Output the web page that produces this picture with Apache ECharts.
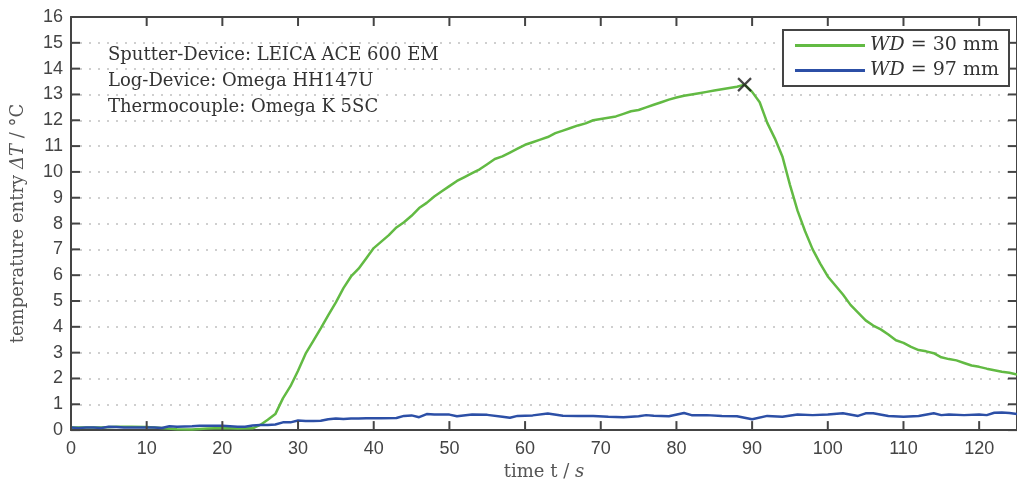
<!DOCTYPE html>
<html>
<head>
<meta charset="UTF-8">
<title>temperature entry</title>
<script src="https://cdn.jsdelivr.net/npm/echarts@6/dist/echarts.min.js"></script>
<style>
  html, body { margin: 0; padding: 0; background: #fff; }
  #chart { width: 1017px; height: 486px; }
</style>
</head>
<body>
<div id="chart"></div>
<script>
// WD = 30 mm (green)
var timeWD30 = [0, 2, 4, 6, 8, 10, 12, 14, 16, 18, 20, 22, 24, 25, 26, 27, 28, 29, 30,
  31, 32, 33, 34, 35, 36, 37, 38, 39, 40, 41, 42, 43, 44, 45, 46, 47, 48, 49, 50,
  51, 52, 53, 54, 55, 56, 57, 58, 59, 60, 61, 62, 63, 64, 65, 66, 67, 68, 69, 70,
  71, 72, 73, 74, 75, 76, 77, 78, 79, 80, 81, 82, 83, 84, 85, 86, 87, 88, 89, 90,
  91, 92, 93, 94, 95, 96, 97, 98, 99, 100, 101, 102, 103, 104, 105, 106, 107, 108, 109, 110,
  111, 112, 113, 114, 115, 116, 117, 118, 119, 120, 121, 122, 123, 124, 125];
var tempWD30 = [0.1, 0.1, 0.1, 0.13, 0.13, 0.12, 0.08, 0.03, 0.02, 0.06, 0.08, 0.06, 0.07, 0.2, 0.4, 0.62, 1.23, 1.7, 2.3,
  2.96, 3.45, 3.94, 4.45, 4.95, 5.5, 5.95, 6.25, 6.65, 7.05, 7.3, 7.55, 7.85, 8.05, 8.3, 8.6, 8.8, 9.05, 9.25, 9.45,
  9.65, 9.8, 9.95, 10.1, 10.3, 10.5, 10.6, 10.75, 10.9, 11.05, 11.15, 11.25, 11.35, 11.5, 11.6, 11.7, 11.8, 11.88, 12.0, 12.05,
  12.1, 12.15, 12.25, 12.35, 12.4, 12.5, 12.6, 12.7, 12.8, 12.88, 12.95, 13.0, 13.05, 13.1, 13.15, 13.2, 13.25, 13.3, 13.38, 13.1,
  12.7, 11.9, 11.3, 10.6, 9.5, 8.5, 7.7, 7.0, 6.45, 5.95, 5.6, 5.25, 4.85, 4.55, 4.25, 4.05, 3.9, 3.7, 3.48, 3.38,
  3.22, 3.1, 3.05, 2.98, 2.82, 2.75, 2.7, 2.6, 2.5, 2.45, 2.38, 2.32, 2.26, 2.22, 2.15];

// WD = 97 mm (blue)
var timeWD97 = [0, 1, 2, 3, 4, 5, 6, 7, 8, 9, 10, 11, 12, 13, 14, 15, 16, 17, 18, 19, 20,
  21, 22, 23, 24, 25, 26, 27, 28, 29, 30, 31, 32, 33, 34, 35, 36, 37, 38, 39, 40,
  41, 43, 44, 45, 46, 47, 48, 50, 51, 53, 55, 57, 58, 59, 61, 63, 65, 67, 69, 71,
  73, 75, 76, 77, 79, 81, 82, 84, 86, 88, 90, 92, 94, 96, 98, 100, 102, 104, 105, 106,
  108, 110, 112, 114, 115, 116, 118, 120, 121, 122, 123, 124, 125];
var tempWD97 = [0.1, 0.08, 0.1, 0.1, 0.08, 0.13, 0.12, 0.1, 0.1, 0.1, 0.1, 0.1, 0.08, 0.15, 0.13, 0.14, 0.15, 0.17, 0.17, 0.17, 0.17,
  0.15, 0.13, 0.13, 0.18, 0.2, 0.2, 0.22, 0.3, 0.3, 0.37, 0.35, 0.35, 0.36, 0.42, 0.45, 0.43, 0.45, 0.45, 0.46, 0.46,
  0.46, 0.47, 0.55, 0.57, 0.5, 0.62, 0.6, 0.6, 0.54, 0.6, 0.59, 0.52, 0.48, 0.55, 0.57, 0.64, 0.56, 0.55, 0.55, 0.52,
  0.5, 0.54, 0.58, 0.56, 0.54, 0.66, 0.58, 0.58, 0.55, 0.54, 0.42, 0.55, 0.52, 0.6, 0.58, 0.6, 0.65, 0.55, 0.65, 0.65,
  0.55, 0.52, 0.55, 0.65, 0.58, 0.6, 0.58, 0.6, 0.58, 0.67, 0.68, 0.66, 0.62];

// Maximum marker
var peakPoint = [89, 13.38];

// axis ranges and tick values
var xRange = [0, 125];
var yRange = [0, 16];
var xTickValues = [0, 10, 20, 30, 40, 50, 60, 70, 80, 90, 100, 110, 120];
var yTickValues = [0, 1, 2, 3, 4, 5, 6, 7, 8, 9, 10, 11, 12, 13, 14, 15, 16];

function pairs(xs, ys) {
  var out = [];
  for (var i = 0; i < xs.length; i++) {
    out.push([xs[i], ys[i]]);
  }
  return out;
}

var green = '#62ba43';
var blue = '#2c4fa6';
var axisColor = '#444';
var serif = '"DejaVu Serif", "Liberation Serif", serif';
var sans = '"Liberation Sans", Arial, sans-serif';
var tickLen = 9;

function frameLine(onZero) {
  return { show: true, onZero: onZero, lineStyle: { color: axisColor, width: 2 } };
}

var infoText = {
  type: 'text',
  left: 108, top: 42,
  style: {
    text: 'Sputter-Device: LEICA ACE 600 EM\nLog-Device: Omega HH147U\nThermocouple: Omega K 5SC',
    font: '18px ' + serif,
    lineHeight: 26,
    fill: '#333'
  }
};

var chart = echarts.init(document.getElementById('chart'));

var option = {
  animation: false,
  backgroundColor: '#fff',
  grid: {
    left: 71, right: 0, top: 17, bottom: 54,
    show: false
  },
  legend: {
    right: 8, top: 30,
    orient: 'vertical',
    data: ['WD = 30 mm', 'WD = 97 mm'],
    icon: 'rect',
    itemWidth: 70, itemHeight: 3,
    itemGap: 6,
    padding: [6, 10, 6, 12],
    borderColor: axisColor, borderWidth: 2,
    backgroundColor: '#fff',
    formatter: function (name) {
      return '{i|WD} ' + name.slice(3);
    },
    textStyle: {
      fontFamily: serif, fontSize: 19, color: '#333',
      rich: { i: { fontFamily: serif, fontStyle: 'italic', fontSize: 19, color: '#333' } }
    }
  },
  graphic: [infoText],
  xAxis: [{
    type: 'value',
    min: xRange[0], max: xRange[1], interval: 10,
    name: 'time t / {i|s}',
    nameLocation: 'middle',
    nameGap: 32,
    nameTextStyle: {
      fontFamily: serif, fontSize: 18, color: '#555',
      rich: { i: { fontFamily: serif, fontStyle: 'italic', fontSize: 18, color: '#555' } }
    },
    axisLine: frameLine(true),
    axisTick: { show: false },
    axisLabel: {
      fontFamily: sans, fontSize: 18, color: '#444', margin: 10,
      showMaxLabel: false
    },
    splitLine: { show: false }
  }, {
    type: 'value',
    position: 'top',
    min: xRange[0], max: xRange[1], interval: 10,
    axisLine: frameLine(false),
    axisTick: { show: false },
    axisLabel: { show: false },
    splitLine: { show: false }
  }],
  yAxis: [{
    type: 'value',
    min: yRange[0], max: yRange[1], interval: 1,
    name: 'temperature entry {i|ΔT} / °C',
    nameLocation: 'middle',
    nameGap: 44,
    nameTextStyle: {
      fontFamily: serif, fontSize: 18, color: '#555',
      rich: { i: { fontFamily: serif, fontStyle: 'italic', fontSize: 18, color: '#555' } }
    },
    axisLine: frameLine(true),
    axisTick: { show: false },
    axisLabel: { fontFamily: sans, fontSize: 18, color: '#444', margin: 8 },
    splitLine: {
      show: true,
      lineStyle: { color: '#cfcfcf', width: 2, type: [2, 7] }
    }
  }, {
    type: 'value',
    position: 'right',
    min: yRange[0], max: yRange[1], interval: 1,
    axisLine: frameLine(false),
    axisTick: { show: false },
    axisLabel: { show: false },
    splitLine: { show: false }
  }],
  series: [{
    name: 'WD = 30 mm',
    type: 'line',
    data: pairs(timeWD30, tempWD30),
    showSymbol: false,
    color: green,
    lineStyle: { color: green, width: 2.5 },
    z: 3
  }, {
    name: 'WD = 97 mm',
    type: 'line',
    data: pairs(timeWD97, tempWD97),
    showSymbol: false,
    color: blue,
    lineStyle: { color: blue, width: 2.5 },
    z: 3
  }, {
    name: 'peak',
    type: 'scatter',
    data: [peakPoint],
    symbol: 'path://M0,0L10,10M10,0L0,10',
    symbolSize: 13,
    itemStyle: { color: 'transparent', borderColor: '#1a1a1a', borderWidth: 2.2 },
    z: 5
  }]
};

chart.setOption(option);

// tick marks on all four sides, pointing inwards, placed through the grid's scales
function tickLine(p, dx, dy) {
  return {
    type: 'line',
    z: 100,
    silent: true,
    shape: { x1: p[0], y1: p[1], x2: p[0] + dx, y2: p[1] + dy },
    style: { stroke: axisColor, lineWidth: 2 }
  };
}

var ticks = [infoText];
xTickValues.forEach(function (v) {
  var pb = chart.convertToPixel({ gridIndex: 0 }, [v, yRange[0]]);
  var pt = chart.convertToPixel({ gridIndex: 0 }, [v, yRange[1]]);
  ticks.push(tickLine(pb, 0, -tickLen));
  ticks.push(tickLine(pt, 0, tickLen));
});
yTickValues.forEach(function (v) {
  var pl = chart.convertToPixel({ gridIndex: 0 }, [xRange[0], v]);
  var pr = chart.convertToPixel({ gridIndex: 0 }, [xRange[1], v]);
  ticks.push(tickLine(pl, tickLen, 0));
  ticks.push(tickLine(pr, -tickLen, 0));
});
chart.setOption({ graphic: ticks });
</script>
</body>
</html>
